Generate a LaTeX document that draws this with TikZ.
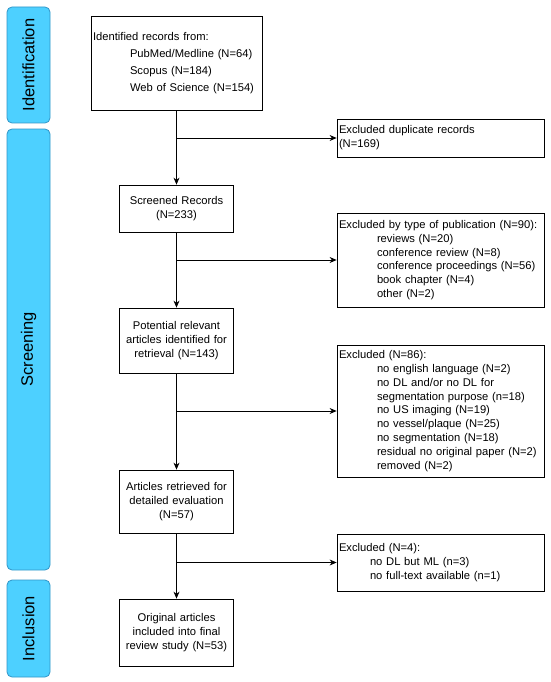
\documentclass[tikz,border=0pt]{standalone}
\usepackage{fontspec}
\setmainfont{Liberation Sans}
\usetikzlibrary{arrows.meta}
\definecolor{barfill}{RGB}{77,208,255}
\definecolor{barline}{RGB}{50,150,200}
\begin{document}
\begin{tikzpicture}[x=1pt,y=-1pt,
 box/.style={draw=black,line width=0.8pt,fill=white,inner sep=0pt,inner xsep=2pt,font=\fontsize{11.2}{13.8}\selectfont},
 mainbox/.style={box,minimum width=114pt,text width=110pt,align=center},
 sidebox/.style={box,minimum width=207pt,text width=203pt,align=left},
 bar/.style={draw=barline,fill=barfill,rounded corners=5pt,line width=0.8pt,minimum height=43pt,inner sep=0pt,rotate=90,font=\fontsize{16.5}{20}\selectfont},
 flow/.style={line width=0.8pt,-{Stealth[length=7pt,width=6pt]}},
 link/.style={line width=0.8pt}]
\useasboundingbox (0,0) rectangle (550,682);
\fill[white] (0,0) rectangle (550,682);

% phase bars
\node[bar,minimum width=116pt] (bid) at (28.5,65) {Identification};
\node[bar,minimum width=441pt] (bsc) at (28.5,349.5) {Screening};
\node[bar,minimum width=97pt] (bin) at (28.5,628.5) {Inclusion};

% main column
\node[box,minimum width=171pt,minimum height=94pt,text width=167pt,align=left,font=\fontsize{11.2}{17}\selectfont] (ident) at (176.5,63)
 {Identified records from:\\
  \hspace*{37pt}PubMed/Medline (N=64)\\
  \hspace*{37pt}Scopus (N=184)\\
  \hspace*{37pt}Web of Science (N=154)};
\node[mainbox,minimum height=47pt] (screened) at (176.5,208.5) {Screened Records\\(N=233)};
\node[mainbox,minimum height=65pt] (potential) at (176.5,340.5) {Potential relevant\\articles identified for\\retrieval (N=143)};
\node[mainbox,minimum height=63pt] (retrieved) at (176.5,501.5) {Articles retrieved for\\detailed evaluation\\(N=57)};
\node[mainbox,minimum height=67pt] (original) at (176.5,632.5) {Original articles\\included into final\\review study (N=53)};

% exclusion column
\node[sidebox,minimum height=38pt] (dup) at (440.5,138) {Excluded duplicate records\\(N=169)};
\node[sidebox,minimum height=94pt] (type) at (440.5,260)
 {Excluded by type of publication (N=90):\\
  \hspace*{38pt}reviews (N=20)\\
  \hspace*{38pt}conference review (N=8)\\
  \hspace*{38pt}conference proceedings (N=56)\\
  \hspace*{38pt}book chapter (N=4)\\
  \hspace*{38pt}other (N=2)};
\node[sidebox,minimum height=132pt] (exa) at (440.5,411)
 {Excluded (N=86):\\
  \hspace*{38pt}no english language (N=2)\\
  \hspace*{38pt}no DL and/or no DL for\\
  \hspace*{38pt}segmentation purpose (n=18)\\
  \hspace*{38pt}no US imaging (N=19)\\
  \hspace*{38pt}no vessel/plaque (N=25)\\
  \hspace*{38pt}no segmentation (N=18)\\
  \hspace*{38pt}residual no original paper (N=2)\\
  \hspace*{38pt}removed (N=2)};
\node[sidebox,minimum height=57pt] (exb) at (440.5,562.5)
 {Excluded (N=4):\\
  \hspace*{31pt}no DL but ML (n=3)\\
  \hspace*{31pt}no full-text available (n=1)};

% connectors
\coordinate (j1) at (ident.south |- dup.west);
\coordinate (j2) at (screened.south |- type.west);
\coordinate (j3) at (potential.south |- exa.west);
\coordinate (j4) at (retrieved.south |- exb.west);
\draw[flow] (ident.south) -- (screened.north);
\draw[flow] (screened.south) -- (potential.north);
\draw[flow] (potential.south) -- (retrieved.north);
\draw[flow] (retrieved.south) -- (original.north);
\draw[flow] (j1) -- (dup.west);
\draw[flow] (j2) -- (type.west);
\draw[flow] (j3) -- (exa.west);
\draw[flow] (j4) -- (exb.west);
\end{tikzpicture}
\end{document}
